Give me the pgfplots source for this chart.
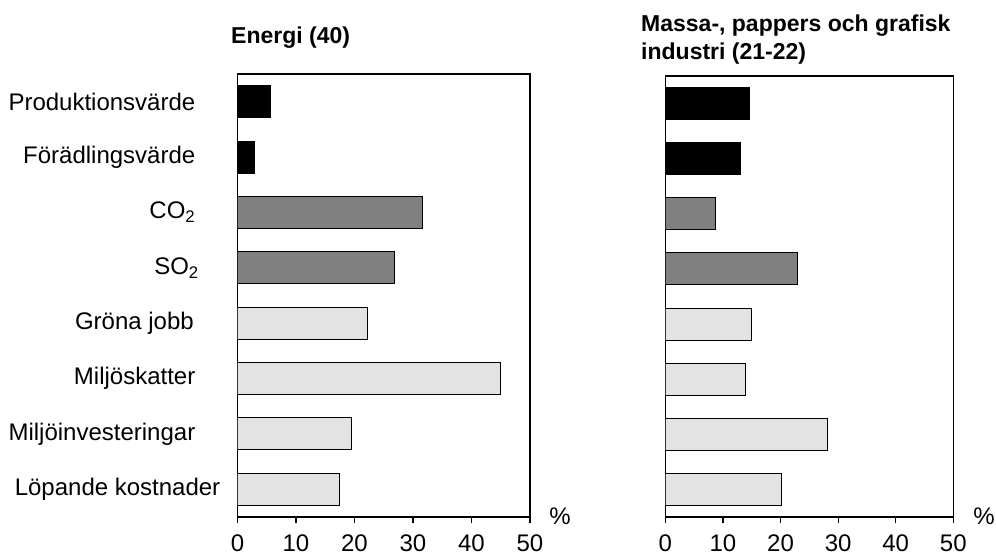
\documentclass[border=0pt]{standalone}
\usepackage{fontspec}
\setmainfont{Liberation Sans}
\usepackage{pgfplots}
\pgfplotsset{compat=1.18}

\definecolor{barmid}{RGB}{128,128,128}
\definecolor{barlight}{RGB}{227,227,227}
\newcommand{\fs}{\fontsize{24bp}{29bp}\selectfont}
\newcommand{\ft}{\fontsize{23bp}{28bp}\selectfont}

\pgfplotsset{
  panel/.style={
    scale only axis,
    anchor=south west,
    xbar, bar width=32bp, bar shift=0pt,
    xmin=0, xmax=50, ymin=-0.5, ymax=7.5, y dir=reverse,
    xtick={0,10,20,30,40,50}, ytick={0,1,2,3,4,5,6,7},
    tick align=outside, xtick pos=bottom, ytick pos=left,
    major tick length=6bp,
    ytick style={draw=none},
    axis line style={line width=1.2bp},
    x tick style={line width=1.2bp, black},
    /pgf/number format/assume math mode=true,
    ticklabel style={font=\fs, inner sep=0pt},
    xticklabel style={anchor=north, yshift=-12bp},
  },
  bardark/.style={fill=black, draw=black, line width=1bp},
  barmid/.style={fill=barmid, draw=black, line width=1bp},
  barlight/.style={fill=barlight, draw=black, line width=1bp},
}

\begin{document}
\begin{tikzpicture}
\useasboundingbox (0,0) rectangle (996bp,560bp);

% Energi (40)
\begin{axis}[panel,
  at={(237.5bp,43bp)}, width=292.5bp, height=443bp,
  yticklabel style={anchor=east, xshift=-36bp},
  yticklabels={Produktionsvärde, Förädlingsvärde, CO\textsubscript{2},
    SO\textsubscript{2}\hspace*{-3.5bp}, Gröna jobb\hspace*{1.5bp}, Miljöskatter,
    Miljöinvesteringar, Löpande kostnader\hspace*{-25bp}},
]
\addplot[bardark] coordinates {(5.6,0) (2.85,1)};
\addplot[barmid] coordinates {(31.6,2) (26.8,3)};
\addplot[barlight] coordinates {(22.3,4) (45.0,5) (19.5,6) (17.5,7)};
\end{axis}

% Massa-, pappers och grafisk industri (21-22)
\begin{axis}[panel,
  at={(665.3bp,43bp)}, width=288bp, height=441bp,
  yticklabels={},
]
\addplot[bardark] coordinates {(14.7,0) (13.0,1)};
\addplot[barmid] coordinates {(8.8,2) (22.9,3)};
\addplot[barlight] coordinates {(14.9,4) (14.0,5) (28.2,6) (20.2,7)};
\end{axis}

\node[anchor=base west, inner sep=0pt, font=\ft\bfseries] at (231bp,516.7bp) {Energi (40)};
\node[anchor=base west, inner sep=0pt, font=\ft\bfseries] at (641bp,528.3bp) {Massa-, pappers och grafisk};
\node[anchor=base west, inner sep=0pt, font=\ft\bfseries] at (641bp,500bp) {industri (21-22)};
\node[inner sep=0pt, font=\fs] at (560bp,44bp) {\%};
\node[inner sep=0pt, font=\fs] at (984bp,44bp) {\%};
\end{tikzpicture}
\end{document}
